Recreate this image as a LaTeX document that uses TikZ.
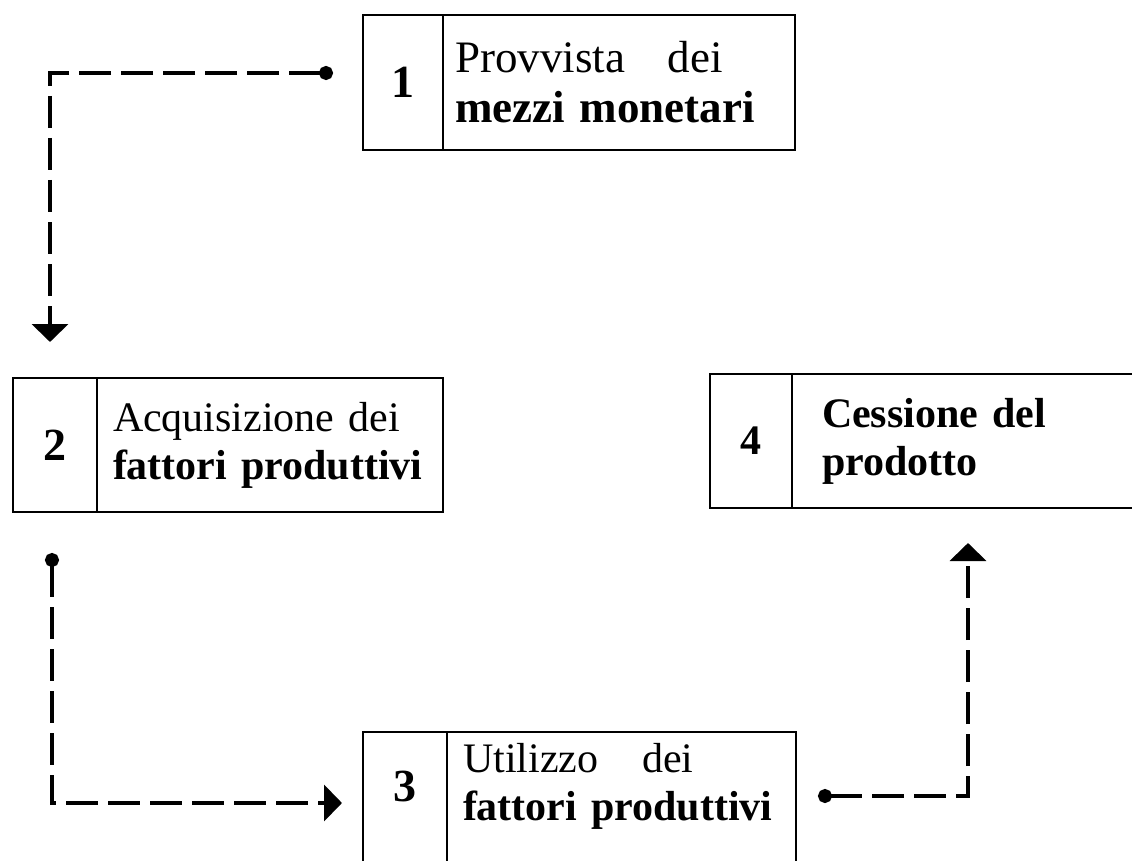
\documentclass[tikz,border=0pt]{standalone}
\usepackage{fontspec}
\setmainfont{Liberation Serif}
\usetikzlibrary{arrows.meta}
\hyphenpenalty=10000
\exhyphenpenalty=10000
\begin{document}
\begin{tikzpicture}[x=1pt,y=-1pt,
  numcell/.style={rectangle, draw=black, line width=2.8pt, inner sep=0pt, outer sep=0pt,
    font=\fontsize{46}{50}\selectfont\bfseries},
  txtcell/.style={rectangle, draw=black, line width=2.8pt, inner xsep=12pt, inner ysep=0pt, outer sep=0pt,
    align=left, font=\fontsize{42}{48}\selectfont},
  frame/.style={line width=2.8pt, line join=miter},
  conn/.style={line width=4pt, dash pattern=on 32pt off 10pt,
    -{Triangle[width=36pt,length=18pt]}},
  dotstart/.style={{Circle[length=14pt]}-{Triangle[width=36pt,length=18pt]}}
]
\useasboundingbox (0,0) rectangle (1132,861);

% Box 1
\node[numcell, minimum width=80pt, minimum height=135pt] (num1) at (403,82.5) {1};
\node[txtcell, minimum height=135pt, text width=328pt, font=\fontsize{45}{50}\selectfont] (txt1) at (619,82.5)
  {Provvista\hspace{28pt} dei\\\textbf{mezzi monetari}};

% Box 2
\node[numcell, minimum width=84pt, minimum height=134pt] (num2) at (55,445) {2};
\node[txtcell, minimum height=134pt, inner xsep=16pt, text width=314pt] (txt2) at (270,445)
  {Acquisizione dei\\\textbf{fattori produttivi}};

% Box 4
\node[numcell, minimum width=82pt, minimum height=134pt, font=\fontsize{42}{46}\selectfont\bfseries] (num4) at (751,441) {4};
\node[txtcell, minimum height=134pt, inner xsep=30pt, text width=288pt] (txt4) at (966,441)
  {\textbf{Cessione del}\\\textbf{prodotto}};

% Box 3 (cut by the lower edge)
\node[numcell, draw=none, minimum width=84pt, minimum height=108pt] (num3) at (405,786) {3};
\node[txtcell, draw=none, minimum height=108pt, inner xsep=16pt, text width=317pt] (txt3) at (621.5,786)
  {Utilizzo\hspace{30pt} dei\\\textbf{fattori produttivi}};
\draw[frame] ([yshift=-40pt]num3.south west) -- (num3.north west) -- (txt3.north east) -- ([yshift=-40pt]txt3.south east);
\draw[frame] (num3.north east) -- ([yshift=-40pt]num3.south east);

% Connector ends
\coordinate (s1) at (333,73);
\coordinate (k1) at (50,73);
\coordinate (e1) at (50,342);
\coordinate (s2) at (52,553);
\coordinate (k2) at (52,803);
\coordinate (e2) at (342,803);
\coordinate (s3) at (818,796);
\coordinate (k3) at (968,796);
\coordinate (e3) at (968,543);

\draw[conn, dotstart] (s1) -- (k1) -- (e1);
\draw[conn, dotstart] (s2) -- (k2) -- (e2);
\draw[conn, dotstart] (s3) -- (k3) -- (e3);
\end{tikzpicture}
\end{document}
